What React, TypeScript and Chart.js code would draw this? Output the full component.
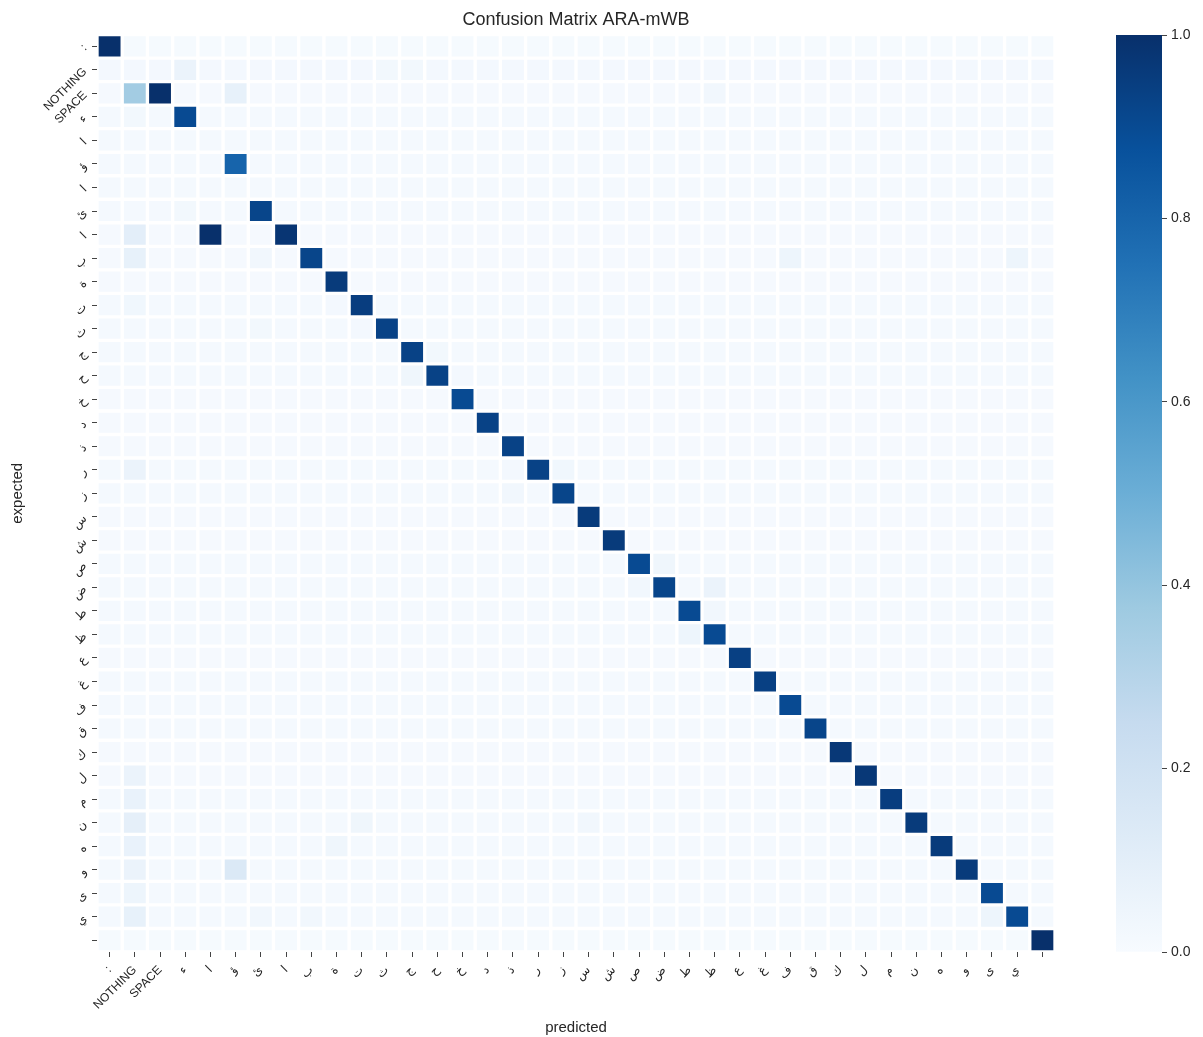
import React, { useEffect, useRef } from "react";
import { Chart, registerables } from "chart.js";

Chart.register(...registerables);

// ---------------- data ----------------
const colLabels = [
  ":", "NOTHING", "SPACE", "ء", "ا", "ؤ", "ئ", "ا", "ب", "ة", "ت", "ث", "ج", "ح", "خ",
  "د", "ذ", "ر", "ز", "س", "ش", "ص", "ض", "ط", "ظ", "ع", "غ", "ف", "ق", "ك", "ل",
  "م", "ن", "ه", "و", "ى", "ي", "",
];

const rowLabels = [
  ":", "NOTHING", "SPACE", "ء", "ا", "ؤ", "ا", "ئ", "ا", "ب", "ة", "ت", "ث", "ج", "ح",
  "خ", "د", "ذ", "ر", "ز", "س", "ش", "ص", "ض", "ط", "ظ", "ع", "غ", "ف", "ق", "ك",
  "ل", "م", "ن", "ه", "و", "ى", "ي", "",
];

// faint background level read per row (expected class)
const rowBase = [
  0.008, 0.02, 0.012, 0.014, 0.016, 0.014, 0.016, 0.014, 0.012, 0.012,
  0.012, 0.014, 0.014, 0.014, 0.014, 0.012, 0.012, 0.012, 0.014, 0.014,
  0.012, 0.012, 0.014, 0.014, 0.014, 0.014, 0.012, 0.014, 0.014, 0.014,
  0.012, 0.012, 0.014, 0.014, 0.014, 0.014, 0.014, 0.014, 0.008,
];

// dominant cell of each row: [row, predicted column, value]
const hitCells: [number, number, number][] = [
  [0, 0, 1.0], [2, 2, 1.0], [3, 3, 0.9], [5, 5, 0.8], [7, 6, 0.92],
  [8, 4, 1.0], [8, 7, 0.98], [9, 8, 0.92], [10, 9, 0.96], [11, 10, 0.95],
  [12, 11, 0.93], [13, 12, 0.93], [14, 13, 0.93], [15, 14, 0.9], [16, 15, 0.93],
  [17, 16, 0.93], [18, 17, 0.93], [19, 18, 0.92], [20, 19, 0.96], [21, 20, 0.96],
  [22, 21, 0.9], [23, 22, 0.92], [24, 23, 0.9], [25, 24, 0.9], [26, 25, 0.94],
  [27, 26, 0.94], [28, 27, 0.9], [29, 28, 0.92], [30, 29, 0.97], [31, 30, 0.97],
  [32, 31, 0.95], [33, 32, 0.96], [34, 33, 0.96], [35, 34, 0.96], [36, 35, 0.9],
  [37, 36, 0.9], [38, 37, 1.0],
];

// visible confusions: [row, predicted column, value]
const offCells: [number, number, number][] = [
  [1, 3, 0.06], [1, 11, 0.025], [1, 12, 0.025],
  [2, 1, 0.36], [2, 5, 0.08], [2, 24, 0.03],
  [3, 1, 0.025], [7, 3, 0.025],
  [8, 1, 0.1], [9, 1, 0.08], [9, 6, 0.03], [9, 27, 0.05], [9, 36, 0.05],
  [11, 1, 0.035], [11, 9, 0.02], [12, 6, 0.025], [12, 10, 0.02],
  [13, 13, 0.025], [14, 12, 0.04], [14, 14, 0.02],
  [18, 1, 0.06], [18, 16, 0.02], [18, 18, 0.035], [19, 16, 0.03],
  [22, 22, 0.04], [23, 21, 0.03], [23, 24, 0.06], [24, 24, 0.03], [25, 23, 0.05],
  [31, 1, 0.06], [32, 1, 0.07], [33, 1, 0.09], [33, 10, 0.04], [33, 19, 0.03],
  [34, 1, 0.07], [34, 9, 0.04], [35, 1, 0.06], [35, 5, 0.14],
  [36, 1, 0.05], [37, 1, 0.08], [37, 6, 0.03], [37, 8, 0.03], [37, 35, 0.05],
];

const colorbarTicks = [0, 0.2, 0.4, 0.6, 0.8, 1.0];

// ---------------- styling helpers ----------------
const BLUES = ["#f7fbff", "#deebf7", "#c6dbef", "#9ecae1", "#6baed6", "#4292c6", "#2171b5", "#08519c", "#08306b"];
const FONT = "'Liberation Sans', Arial, 'DejaVu Sans', 'Noto Sans', sans-serif";
const TEXT = "#262626";

function hexToRgb(h: string) {
  const n = parseInt(h.slice(1), 16);
  return [(n >> 16) & 255, (n >> 8) & 255, n & 255];
}
function blues(v: number) {
  const t = Math.max(0, Math.min(1, v)) * (BLUES.length - 1);
  const i = Math.min(BLUES.length - 2, Math.floor(t));
  const f = t - i;
  const a = hexToRgb(BLUES[i]);
  const b = hexToRgb(BLUES[i + 1]);
  const c = a.map((x, k) => Math.round(x + (b[k] - x) * f));
  return `rgb(${c[0]},${c[1]},${c[2]})`;
}

function buildMatrix() {
  const m = rowLabels.map((_, r) => colLabels.map(() => rowBase[r]));
  for (const [r, c, v] of offCells) m[r][c] = v;
  for (const [r, c, v] of hitCells) m[r][c] = v;
  return m;
}

const W = 1203;
const H = 1037;

export default function App() {
  const mainRef = useRef<HTMLCanvasElement>(null);
  const cbRef = useRef<HTMLCanvasElement>(null);

  useEffect(() => {
    const matrix = buildMatrix();
    const datasets = rowLabels.map((_, r) => ({
      label: rowLabels[r],
      data: colLabels.map(() => [r, r + 1]),
      backgroundColor: matrix[r].map(blues),
      borderColor: "#ffffff",
      borderWidth: 2,
      borderSkipped: false,
      grouped: false,
      categoryPercentage: 1,
      barPercentage: 1,
    }));

    const main = new Chart(mainRef.current!, {
      type: "bar",
      data: { labels: colLabels, datasets: datasets as any },
      options: {
        animation: false,
        responsive: false,
        maintainAspectRatio: false,
        events: [],
        layout: { padding: { left: 0, right: W - 1055, top: 0, bottom: 0 } },
        plugins: {
          legend: { display: false },
          tooltip: { enabled: false },
          title: {
            display: true,
            fullSize: false,
            text: "Confusion Matrix ARA-mWB",
            color: TEXT,
            font: { family: FONT, size: 18, weight: "normal" },
            padding: { top: 9, bottom: 4 },
          } as any,
        },
        scales: {
          x: {
            type: "category",
            offset: true,
            border: { display: false },
            grid: { display: true, drawOnChartArea: false, offset: false, tickLength: 5, tickColor: "#444", tickWidth: 1 },
            ticks: { autoSkip: false, minRotation: 45, maxRotation: 45, color: TEXT, font: { family: FONT, size: 12 }, padding: 6 },
            title: { display: true, text: "predicted", color: TEXT, font: { family: FONT, size: 15 }, padding: { top: 0, bottom: 0 } },
            afterFit: (s: any) => { s.height = 85; },
          } as any,
          y: {
            type: "linear",
            min: 0,
            max: rowLabels.length,
            reverse: true,
            border: { display: false },
            grid: { display: true, drawOnChartArea: false, tickLength: 5, tickColor: "#444", tickWidth: 1 },
            afterBuildTicks: (s: any) => { s.ticks = rowLabels.map((_, i) => ({ value: i + 0.5 })); },
            ticks: {
              autoSkip: false, minRotation: 45, maxRotation: 45, color: TEXT, font: { family: FONT, size: 12 }, padding: 7,
              callback: (v: any) => rowLabels[Math.floor(Number(v))],
            },
            title: { display: true, text: "expected", color: TEXT, font: { family: FONT, size: 15 }, padding: { top: 9, bottom: 0 } },
            afterFit: (s: any) => { s.width = 97; },
          } as any,
        },
      },
    });

    const cb = new Chart(cbRef.current!, {
      type: "bar",
      data: {
        labels: [""],
        datasets: [{
          data: [[colorbarTicks[0], colorbarTicks[colorbarTicks.length - 1]]] as any,
          backgroundColor: (ctx: any) => {
            const area = ctx.chart.chartArea;
            if (!area) return BLUES[4];
            const g = ctx.chart.ctx.createLinearGradient(0, area.bottom, 0, area.top);
            BLUES.forEach((c, i) => g.addColorStop(i / (BLUES.length - 1), c));
            return g;
          },
          borderWidth: 0,
          categoryPercentage: 1,
          barPercentage: 1,
        } as any],
      },
      options: {
        animation: false,
        responsive: false,
        maintainAspectRatio: false,
        events: [],
        layout: { padding: { left: 36, right: 0, top: 35, bottom: 85 } },
        plugins: { legend: { display: false }, tooltip: { enabled: false }, title: { display: false } },
        scales: {
          x: { display: false },
          y: {
            position: "right",
            min: 0,
            max: 1,
            border: { display: false },
            grid: { display: true, drawOnChartArea: false, tickLength: 5, tickColor: "#444", tickWidth: 1 },
            afterBuildTicks: (s: any) => { s.ticks = colorbarTicks.map((v) => ({ value: v })); },
            ticks: { color: TEXT, font: { family: FONT, size: 14 }, padding: 4, callback: (v: any) => Number(v).toFixed(1) },
            afterFit: (s: any) => { s.width = 41; },
          } as any,
        },
      },
    });

    return () => {
      main.destroy();
      cb.destroy();
    };
  }, []);

  return (
    <div style={{ position: "fixed", left: 0, top: 0, width: W, height: H, background: "#fff" }}>
      <canvas ref={mainRef} width={W} height={H} style={{ position: "absolute", left: 0, top: 0, width: W, height: H }} />
      <canvas ref={cbRef} width={123} height={H} style={{ position: "absolute", left: 1080, top: 0, width: 123, height: H }} />
    </div>
  );
}
